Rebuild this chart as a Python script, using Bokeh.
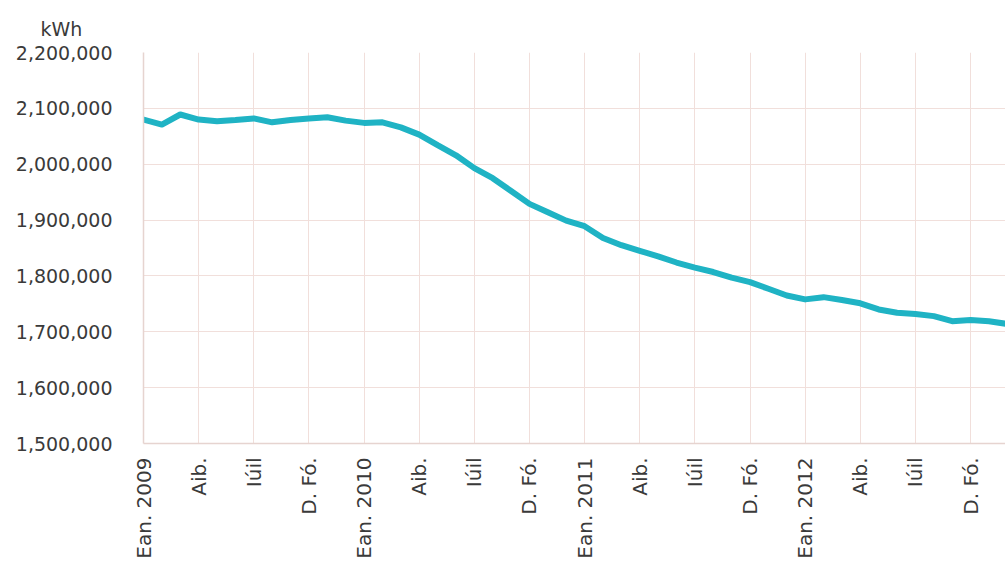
from bokeh.plotting import figure
from bokeh.models import FixedTicker, NumeralTickFormatter, Range1d
from bokeh.embed import file_html
from bokeh.resources import INLINE
import math

# Monthly values, Jan 2009 .. Dec 2012 (kWh)
months = list(range(48))
consumption = [
    2080000, 2071000, 2089000, 2080000, 2077000, 2079000,
    2082000, 2075000, 2079000, 2082000, 2084000, 2078000,
    2074000, 2075000, 2066000, 2053000, 2034000, 2016000,
    1993000, 1975000, 1952000, 1929000, 1914000, 1899000,
    1889000, 1868000, 1855000, 1845000, 1835000, 1824000,
    1815000, 1807000, 1797000, 1789000, 1777000, 1765000,
    1758000, 1762000, 1757000, 1751000, 1740000, 1734000,
    1732000, 1728000, 1719000, 1721000, 1719000, 1714000,
]
tick_positions = [0, 3, 6, 9, 12, 15, 18, 21, 24, 27, 30, 33, 36, 39, 42, 45]
tick_labels = [
    "Ean. 2009", "Aib.", "Iúil", "D. Fó.",
    "Ean. 2010", "Aib.", "Iúil", "D. Fó.",
    "Ean. 2011", "Aib.", "Iúil", "D. Fó.",
    "Ean. 2012", "Aib.", "Iúil", "D. Fó.",
]
y_ticks = [1500000, 1600000, 1700000, 1800000, 1900000, 2000000, 2100000, 2200000]
unit_label = "kWh"

FONT = "DejaVu Sans"
TXT = "#3a3a3a"
GRID = "#f1dfdb"
AXIS = "#e6d4d0"

p = figure(width=1005, height=563, output_backend="svg", toolbar_location=None,
           x_range=Range1d(0, 46.9), y_range=Range1d(1500000, 2200000),
           min_border_left=143, min_border_top=52, min_border_right=0,
           min_border_bottom=120)
p.outline_line_color = None
p.background_fill_color = "white"
p.border_fill_color = "white"

p.line(months, consumption, line_color="#1fb3c4", line_width=6,
       line_join="round", line_cap="round")

xa = p.xaxis[0]
xa.ticker = FixedTicker(ticks=tick_positions)
xa.major_label_overrides = {t: l for t, l in zip(tick_positions, tick_labels)}
xa.major_label_orientation = math.pi / 2
xa.major_label_text_font = FONT
xa.major_label_text_font_size = "20px"
xa.major_label_text_color = TXT
xa.major_label_standoff = 14
xa.major_tick_line_color = None
xa.minor_tick_line_color = None
xa.major_tick_out = 0
xa.major_tick_in = 0
xa.axis_line_color = AXIS
xa.axis_line_width = 1.5

ya = p.yaxis[0]
ya.ticker = FixedTicker(ticks=y_ticks)
ya.formatter = NumeralTickFormatter(format="0,0")
ya.major_label_text_font = FONT
ya.major_label_text_font_size = "19px"
ya.major_label_text_color = TXT
ya.major_label_standoff = 31
ya.major_tick_line_color = None
ya.minor_tick_line_color = None
ya.major_tick_out = 0
ya.major_tick_in = 0
ya.axis_line_color = AXIS
ya.axis_line_width = 1.5

p.xgrid.grid_line_color = GRID
p.ygrid.grid_line_color = GRID
p.xgrid.ticker = FixedTicker(ticks=tick_positions)
p.ygrid.ticker = FixedTicker(ticks=y_ticks)

p.title.text = unit_label
p.title.align = "left"
p.title.vertical_align = "top"
p.title.offset = -103
p.title.text_font = FONT
p.title.text_font_size = "19px"
p.title.text_font_style = "normal"
p.title.text_color = TXT
p.title.standoff = 22

open("out.html", "w").write(file_html(p, INLINE))
